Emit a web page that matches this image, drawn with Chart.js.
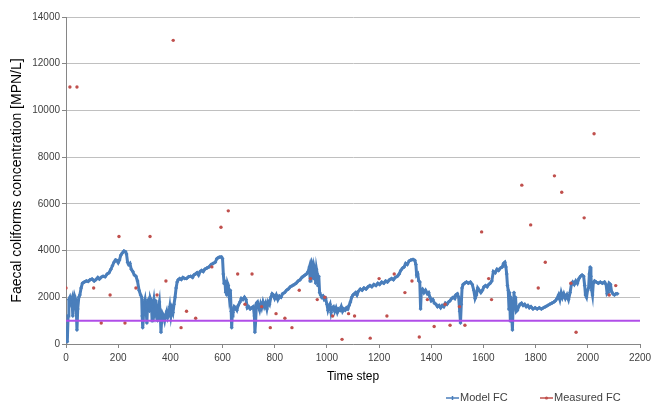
<!DOCTYPE html>
<html><head><meta charset="utf-8">
<script src="https://cdn.jsdelivr.net/npm/chart.js@4.4.0/dist/chart.umd.min.js"></script>
<style>html,body{margin:0;padding:0;background:#fff}#wrap{width:660px;height:404px}</style>
</head><body><div id="wrap"><canvas id="c" width="660" height="404"></canvas></div>
<script>
const modelX = [0,3,5,8,11,15,19,23,26,29,33,37,40,42,45,49,53,58,63,70,78,85,92,100,108,115,122,128,135,142,150,158,165,172,178,184,190,195,200,205,210,216,222,228,232,236,240,245,250,256,262,268,274,280,286,290,292,294,296,299,303,307,310,313,317,320,323,327,330,333,337,341,344,348,351,355,358,362,364,366,
370,374,378,382,386,390,394,398,402,406,410,414,418,422,426,430,436,442,448,455,462,470,478,485,490,496,502,508,514,520,526,532,540,548,556,564,572,578,584,590,596,600,603,606,609,612,614,616,619,622,626,630,633,635,637,640,645,650,655,660,667,672,678,684,690,695,700,706,712,718,722,724,727,730,734,
738,742,746,750,755,760,765,770,775,780,785,790,795,800,806,812,818,824,830,838,845,852,860,868,875,882,890,897,904,910,916,922,928,933,936,939,942,945,948,951,954,957,960,963,966,969,972,976,980,985,990,995,1000,1004,1008,1012,1016,1020,1025,1030,1035,1040,1045,1050,1055,1060,1065,1070,1075,1080,1085,1090,1095,1100,1105,
1110,1115,1120,1128,1135,1142,1150,1158,1165,1172,1180,1188,1195,1202,1210,1218,1225,1232,1240,1248,1255,1262,1270,1277,1283,1290,1296,1302,1308,1315,1322,1330,1337,1341,1344,1348,1352,1356,1359,1362,1366,1372,1378,1385,1390,1395,1400,1406,1412,1418,1424,1430,1436,1442,1448,1454,1460,1466,1472,1478,1484,1490,
1494,1500,1505,1509,1512,1515,1518,1522,1528,1535,1542,1550,1557,1563,1568,1573,1578,1584,1590,1596,1602,1608,1614,1620,1626,1632,1638,1645,1652,1658,1665,1672,1677,1682,1686,1689,1692,1695,1698,1700,1703,1705,1708,1711,1714,1717,1720,1723,1726,1730,1735,1740,1746,1752,1758,1764,1770,1776,1782,1790,1798,1806,1814,1822,1830,1838,1846,1854,1862,1870,
1876,1882,1888,1893,1898,1903,1908,1914,1920,1926,1932,1937,1942,1948,1954,1960,1966,1972,1978,1984,1988,1991,1995,1999,2003,2006,2009,2012,2015,2018,2021,2026,2032,2040,2048,2056,2064,2070,2074,2078,2082,2087,2091,2096,2102,2108,2114];
const modelY = [700,300,100,1200,1900,2000,1800,1950,1200,1700,2050,1900,1300,600,1500,2000,2100,2400,2600,2650,2700,2680,2750,2780,2700,2760,2850,2780,2860,2900,2880,3000,3050,3200,3350,3500,3600,3580,3480,3600,3800,3900,3980,3950,3850,3500,3400,3450,3200,3100,2950,2900,2700,2300,2100,2000,1200,700,1000,1700,1900,1500,900,1800,1900,1400,1950,1800,1000,1600,1900,1500,1850,1300,1000,1600,1800,1100,500,900,
1300,1200,1000,1250,1400,1150,1300,1600,1200,1500,1350,1700,2000,2400,2650,2750,2800,2760,2850,2800,2800,2880,2900,2850,2950,3000,3050,2950,3100,3150,3100,3200,3250,3300,3400,3450,3500,3650,3700,3720,3720,3650,3000,2600,2700,2200,2650,2100,2600,2500,2000,2300,1400,700,1200,1350,1600,1550,1450,1650,1800,1950,1900,2000,1900,1550,1600,1500,1550,1600,1200,500,1000,1750,1800,
1600,1450,1700,1550,1800,1600,1750,1500,1800,1700,2000,2150,2100,1950,2100,1900,2050,2000,2150,2200,2300,2350,2450,2500,2550,2600,2700,2750,2850,2900,2950,3000,3100,3300,2700,3350,3500,3400,2800,3300,3150,2600,3200,3000,2500,2900,2200,2100,2000,2050,1900,1950,1700,1450,1600,1700,1350,1550,1600,1400,1550,1350,1500,1450,1600,1400,1500,1450,1550,1500,1650,1800,2000,2100,2150,
2200,2100,2250,2350,2300,2400,2350,2450,2500,2450,2550,2500,2600,2550,2650,2600,2700,2650,2750,2800,2750,2850,2900,3000,3150,3250,3300,3450,3400,3550,3600,3620,3580,3400,2950,3000,2700,2650,1500,2300,2350,2200,2300,2150,2200,2000,1850,1900,1750,1700,1600,1650,1550,1650,1600,1750,1700,1800,1850,1950,2000,1950,
2100,2150,2000,1400,900,1700,2400,2550,2600,2650,2600,2650,2550,2300,1950,2100,2400,2300,2200,2300,2450,2500,2450,2550,2600,2700,3100,3050,3200,3150,3250,3300,3450,3500,3300,3000,2500,2300,1500,2200,1000,2000,1300,600,1800,2200,1500,2000,1400,1450,1600,1700,1750,1650,1700,1600,1650,1550,1600,1500,1550,1500,1550,1500,1550,1600,1650,1700,1750,1800,
1850,1950,2100,1900,2200,2000,2150,1950,2100,1900,2200,2550,2650,2550,2700,2600,2800,2900,2950,2900,2500,2100,2000,2300,2400,3000,3300,2900,2300,2100,2600,2700,2650,2600,2650,2600,2650,2550,2150,2200,2600,2550,2250,2150,2100,2150,2150];
const measuredX = [0,15,42,106,135,169,203,226,268,322,349,383,411,441,462,497,559,594,622,658,686,713,750,783,805,839,866,894,937,963,992,1022,1058,1083,1106,1166,1200,1230,1258,1299,1326,1354,1385,1411,1453,1472,1508,1529,1593,1620,1631,1747,1781,1810,1837,1872,1900,1935,1955,1986,2024,2082,2107];
const measuredY = [2400,11000,11000,2400,900,2100,4600,900,2400,4600,2100,2700,13000,700,1400,1100,3300,5000,5700,3000,1700,3000,1600,700,1300,1100,700,2300,2800,1900,2000,1200,200,1300,1200,250,2800,1200,3000,2200,2700,300,1900,750,1700,800,1600,800,4800,2800,1900,6800,5100,2400,3500,7200,6500,2600,500,5400,9000,2100,2500];
const thresholdX = [0, 2200];
const thresholdY = [1000, 1000];
const xTicks = [0,200,400,600,800,1000,1200,1400,1600,1800,2000,2200];
const yTicks = [0,2000,4000,6000,8000,10000,12000,14000];
const seriesNames = ['Model FC', 'Measured FC'];
const axisTitles = {x: 'Time step', y: 'Faecal coliforms concentration [MPN/L]'};

const BLUE = '#4a7ebb', RED = '#c0504d', PURPLE = '#b04ee8';
const FONT = 'Arial, "Liberation Sans", sans-serif';
const zip = (xs, ys) => xs.map((x, i) => ({x, y: ys[i]}));

const legendPlugin = {
  id: 'customLegend',
  afterDraw(chart) {
    const ctx = chart.ctx;
    const items = [
      {label: seriesNames[0], color: BLUE, marker: 'plus', x: 446},
      {label: seriesNames[1], color: RED, marker: 'dot', x: 540}
    ];
    const y = 398;
    ctx.save();
    ctx.font = '11px ' + FONT;
    ctx.textBaseline = 'middle';
    items.forEach(it => {
      ctx.strokeStyle = it.color; ctx.lineWidth = 1.5;
      ctx.beginPath(); ctx.moveTo(it.x, y); ctx.lineTo(it.x + 13, y); ctx.stroke();
      const cx = it.x + 6.5;
      ctx.fillStyle = it.color;
      ctx.beginPath();
      if (it.marker === 'plus') { ctx.moveTo(cx, y-2); ctx.lineTo(cx, y+2); ctx.stroke(); }
      else { ctx.arc(cx, y, 1.6, 0, Math.PI*2); ctx.fill(); }
      ctx.fillStyle = '#404040';
      ctx.textAlign = 'left';
      ctx.fillText(it.label, it.x + 14, y);
    });
    ctx.restore();
  }
};

new Chart(document.getElementById('c'), {
  type: 'scatter',
  data: {
    datasets: [
      {label: 'Threshold', data: zip(thresholdX, thresholdY), showLine: true, borderColor: PURPLE, borderWidth: 2, pointRadius: 0, order: 0},
      {label: seriesNames[1], data: zip(measuredX, measuredY), showLine: false, pointRadius: 1.7, pointBackgroundColor: RED, pointBorderWidth: 0, order: 1},
      {label: seriesNames[0], data: zip(modelX, modelY), showLine: true, borderColor: BLUE, borderWidth: 3, tension: 0,
       pointStyle: 'rectRot', pointRadius: 2, pointBackgroundColor: BLUE, pointBorderWidth: 0, order: 2}
    ]
  },
  options: {
    responsive: false, animation: false, devicePixelRatio: 1,
    layout: {padding: {top: 17, right: 20, left: 0, bottom: 20}},
    plugins: {legend: {display: false}, tooltip: {enabled: false}},
    scales: {
      x: {
        type: 'linear', min: 0, max: 2200,
        afterBuildTicks: s => { s.ticks = xTicks.map(v => ({value: v})); },
        afterFit: s => { s.height = 40; },
        grid: {drawOnChartArea: false, drawTicks: true, tickLength: 4, tickColor: '#868686'},
        border: {color: '#868686', width: 1},
        ticks: {font: {size: 10, family: FONT}, color: '#404040', padding: 4, maxRotation: 0, callback: v => String(v)},
        title: {display: true, text: axisTitles.x, font: {size: 12, family: FONT}, color: '#000', padding: 0}
      },
      y: {
        type: 'linear', min: 0, max: 14000,
        afterBuildTicks: s => { s.ticks = yTicks.map(v => ({value: v})); },
        afterFit: s => { s.width = 66; },
        grid: {color: '#c0c0c0', drawTicks: true, tickLength: 4, tickColor: '#868686'},
        border: {color: '#868686', width: 1},
        ticks: {font: {size: 10, family: FONT}, color: '#404040', padding: 2, callback: v => String(v)},
        title: {display: true, text: axisTitles.y, font: {size: 14, family: FONT}, color: '#000', padding: {top: 9, bottom: 0}}
      }
    }
  },
  plugins: [legendPlugin]
});
</script></body></html>
